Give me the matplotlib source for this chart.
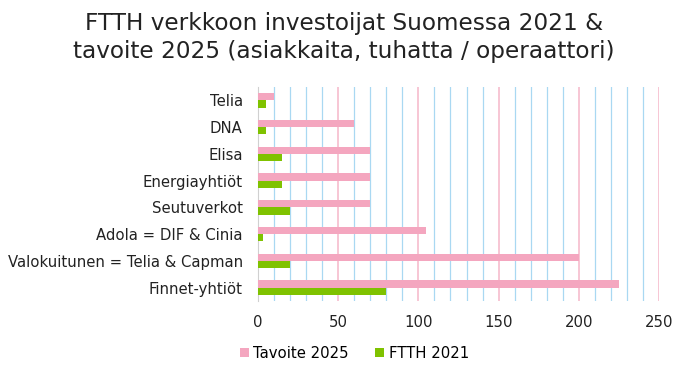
import matplotlib
matplotlib.use("Agg")
import matplotlib.pyplot as plt
import numpy as np

categories = ["Telia", "DNA", "Elisa", "Energiayhtiöt", "Seutuverkot",
              "Adola = DIF & Cinia", "Valokuitunen = Telia & Capman", "Finnet-yhtiöt"]
tavoite_2025 = [10, 60, 70, 70, 70, 105, 200, 225]
ftth_2021 = [5, 5, 15, 15, 20, 3, 20, 80]
xticks = [0, 50, 100, 150, 200, 250]

pink = "#F4A6BF"
green = "#7FC200"

fig = plt.figure(figsize=(6.88, 3.74), dpi=100)
ax = fig.add_axes([258/688, 1-301/374, (659-258)/688, (301-87)/374])

n = len(categories)
y = np.arange(n)
h = 0.27
ax.barh(y - h/2, tavoite_2025, height=h, color=pink, label="Tavoite 2025", zorder=3)
ax.barh(y + h/2, ftth_2021, height=h, color=green, label="FTTH 2021", zorder=3)

ax.set_ylim(n - 0.5, -0.5)
ax.set_xlim(0, 250)
ax.set_yticks(y)
ax.set_yticklabels(categories, fontsize=10.7, color="#222222")
ax.set_xticks(xticks)
ax.set_xticklabels([str(v) for v in xticks], fontsize=10.7, color="#222222")
ax.set_xticks(np.arange(0, 251, 10), minor=True)
ax.grid(which="minor", axis="x", color="#A9D8F2", linewidth=0.9, zorder=0)
ax.grid(which="major", axis="x", color="#F6BCCD", linewidth=1.2, zorder=1)
ax.tick_params(axis="both", length=0, which="both")
ax.tick_params(axis="x", pad=10)
ax.tick_params(axis="y", pad=11)
for s in ["top", "right", "bottom"]:
    ax.spines[s].set_visible(False)
ax.spines["left"].set_color("#D0D0D0")

fig.suptitle("FTTH verkkoon investoijat Suomessa 2021 &\ntavoite 2025 (asiakkaita, tuhatta / operaattori)",
             fontsize=16.7, y=0.968, color="#222222", linespacing=1.3)

fig.legend(loc="lower center", bbox_to_anchor=(0.515, 0.0), ncol=2, frameon=False,
           fontsize=10.7, handlelength=0.6, handleheight=0.6, handletextpad=0.3, columnspacing=1.8)

fig.savefig("out.png", dpi=100)
